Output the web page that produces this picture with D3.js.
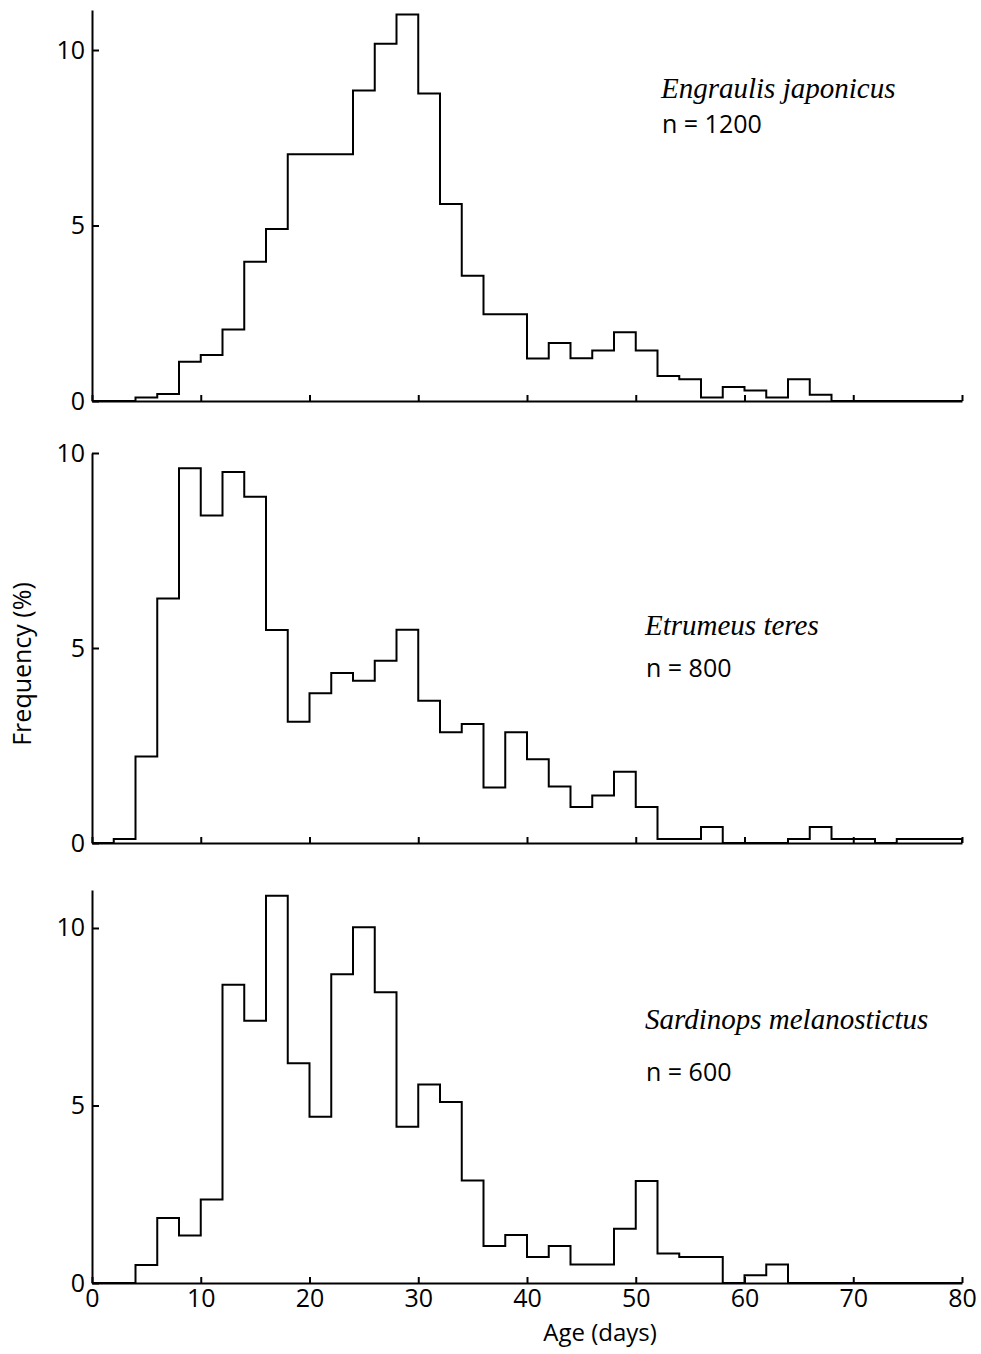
<!DOCTYPE html>
<html>
<head>
<meta charset="utf-8">
<script src="https://cdn.jsdelivr.net/npm/d3@7"></script>
<style>
  body { margin: 0; background: #fff; }
  svg { display: block; }
  .tick text { font-family: 'Open Sans', sans-serif; font-size: 25px; fill: #000; }
  .domain, .tick line { stroke: #000; stroke-width: 2; }
</style>
</head>
<body>
<div id="chart"></div>
<script>
// 2-day age bins (start of each bin, days)
const binStarts = [0, 2, 4, 6, 8, 10, 12, 14, 16, 18, 20, 22, 24, 26, 28, 30, 32, 34, 36, 38,
                   40, 42, 44, 46, 48, 50, 52, 54, 56, 58, 60, 62, 64, 66, 68, 70, 72, 74, 76, 78];
const binWidth = 2;

// frequency (%) per bin
const engraulis = [0, 0, 0.1, 0.2, 1.12, 1.31, 2.04, 3.97, 4.9, 7.03, 7.03, 7.03, 8.85, 10.18, 11.01, 8.76,
                   5.61, 3.57, 2.47, 2.47, 1.21, 1.65, 1.22, 1.44, 1.96, 1.44, 0.71, 0.62, 0.1, 0.4,
                   0.3, 0.1, 0.62, 0.18, 0, 0, 0, 0, 0, 0];
const etrumeus = [0, 0.1, 2.22, 6.27, 9.61, 8.4, 9.51, 8.88, 5.46, 3.11, 3.84, 4.36, 4.16, 4.67, 5.47, 3.65,
                  2.84, 3.05, 1.42, 2.84, 2.15, 1.45, 0.92, 1.22, 1.83, 0.92, 0.1, 0.1, 0.41, 0,
                  0, 0, 0.1, 0.41, 0.1, 0.1, 0, 0.1, 0.1, 0.1];
const sardinops = [0, 0, 0.51, 1.83, 1.34, 2.35, 8.4, 7.39, 10.91, 6.19, 4.68, 8.7, 10.02, 8.19, 4.4, 5.59,
                   5.1, 2.89, 1.04, 1.35, 0.73, 1.04, 0.52, 0.52, 1.53, 2.87, 0.83, 0.73, 0.73, 0,
                   0.22, 0.52, 0, 0, 0, 0, 0, 0, 0, 0];

const species = ['Engraulis japonicus', 'Etrumeus teres', 'Sardinops melanostictus'];
const sampleSizes = ['n = 1200', 'n = 800', 'n = 600'];
const yMax = [11.14, 10, 11.07];
const yTicks = [0, 5, 10];
const xTicks = [0, 10, 20, 30, 40, 50, 60, 70, 80];

// layout
const W = 981, H = 1354;
const left = 92, right = 962;
const panels = [
  { values: engraulis, top: 10, bottom: 401, nameY: 98, nY: 133, labelX: 661 },
  { values: etrumeus, top: 453, bottom: 843, nameY: 635, nY: 677, labelX: 645 },
  { values: sardinops, top: 890, bottom: 1283, nameY: 1029, nY: 1081, labelX: 645 }
];

const svg = d3.select('#chart')
  .append('svg')
    .attr('width', W)
    .attr('height', H);

const x = d3.scaleLinear().domain([0, 80]).range([left, right]);

panels.forEach((p, i) => {
  const y = d3.scaleLinear().domain([0, yMax[i]]).range([p.bottom, p.top]);

  const g = svg.append('g');

  // step outline of the histogram
  const pts = binStarts.map((b, j) => [b, p.values[j]]);
  pts.push([binStarts[binStarts.length - 1] + binWidth, p.values[p.values.length - 1]]);
  pts.push([binStarts[binStarts.length - 1] + binWidth, 0]);

  const line = d3.line()
    .x(d => x(d[0]))
    .y(d => y(d[1]))
    .curve(d3.curveStepAfter);

  g.append('path')
    .datum(pts)
    .attr('d', line)
    .attr('fill', 'none')
    .attr('stroke', '#000')
    .attr('stroke-width', 2);

  // axes (ticks point inward)
  g.append('g')
    .attr('transform', `translate(${left},0)`)
    .call(d3.axisLeft(y).tickValues(yTicks).tickSize(-7).tickSizeOuter(0).tickPadding(7));

  const xAxis = d3.axisBottom(x).tickValues(xTicks).tickSize(-6).tickSizeOuter(0).tickPadding(6);
  if (i < 2) xAxis.tickFormat('');
  g.append('g')
    .attr('transform', `translate(0,${p.bottom})`)
    .call(xAxis);

  // species label and sample size
  g.append('text')
    .attr('x', p.labelX)
    .attr('y', p.nameY)
    .attr('font-family', "'Liberation Serif', 'Times New Roman', serif")
    .attr('font-style', 'italic')
    .attr('font-size', 29)
    .text(species[i]);

  g.append('text')
    .attr('x', p.labelX + 1)
    .attr('y', p.nY)
    .attr('font-family', "'Open Sans', sans-serif")
    .attr('font-size', 25)
    .text(sampleSizes[i]);
});

svg.append('text')
  .attr('x', 600)
  .attr('y', 1341)
  .attr('text-anchor', 'middle')
  .attr('font-family', "'Open Sans', sans-serif")
  .attr('font-size', 24)
  .text('Age (days)');

svg.append('text')
  .attr('transform', 'translate(31,664) rotate(-90)')
  .attr('text-anchor', 'middle')
  .attr('font-family', "'Open Sans', sans-serif")
  .attr('font-size', 25)
  .text('Frequency (%)');
</script>
</body>
</html>
